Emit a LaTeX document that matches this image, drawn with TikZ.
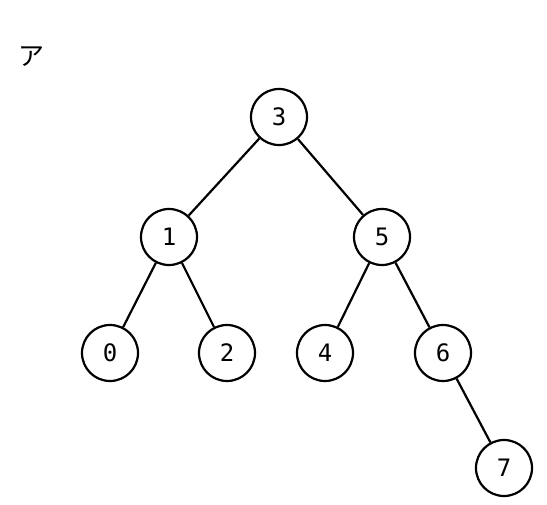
\documentclass[tikz,border=0pt]{standalone}
\usepackage{fontspec}
\setmonofont{DejaVu Sans Mono}
\newfontfamily\jpfont{Noto Sans CJK JP}
\tikzset{every node/.style={font=\ttfamily\fontsize{24}{24}\selectfont},
	vertex/.style={draw,circle,line width=2.2pt,minimum size=56pt,inner sep=0pt}}

\begin{document}
\begin{tikzpicture}[x=1pt,y=-1pt,line width=2.2pt]
	\useasboundingbox (0,0) rectangle (547,505);

	\node at (31,57) {\jpfont\fontsize{26}{26}\selectfont ア};

	\node[vertex] (n3) at (279,117) {3};
	\node[vertex] (n1) at (169,237) {1};
	\node[vertex] (n5) at (382,237) {5};
	\node[vertex] (n0) at (110,353) {0};
	\node[vertex] (n2) at (227,353) {2};
	\node[vertex] (n4) at (325,353) {4};
	\node[vertex] (n6) at (443,353) {6};
	\node[vertex] (n7) at (504,468) {7};

	\draw (n3) -- (n1) ;
	\draw (n3) -- (n5) ;
	\draw (n1) -- (n0) ;
	\draw (n1) -- (n2) ;
	\draw (n5) -- (n4) ;
	\draw (n5) -- (n6) ;
	\draw (n6) -- (n7) ;

\end{tikzpicture}
\end{document}
